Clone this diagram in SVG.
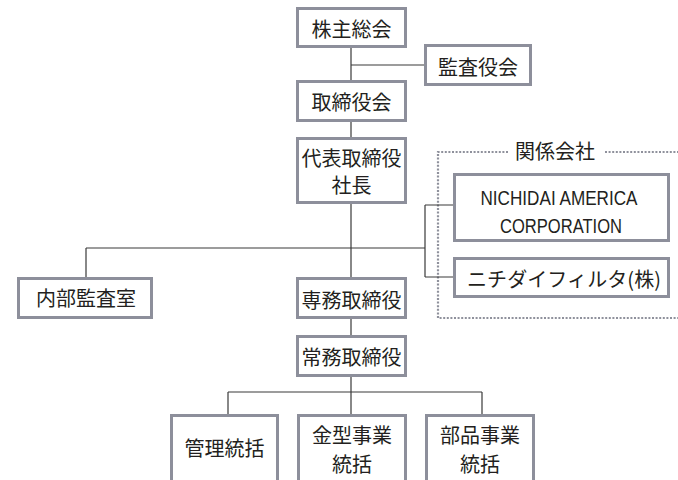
<svg xmlns="http://www.w3.org/2000/svg" width="678" height="480" viewBox="0 0 678 480">
<style>
.box{fill:#fff;stroke:#8d8f9b;stroke-width:3}
.ln{fill:none;stroke:#3a3a3a;stroke-width:1.2}
.dot{fill:none;stroke:#8f919c;stroke-width:2.2;stroke-dasharray:2 1.6}
.t{font-family:"Noto Sans CJK JP","Noto Sans",sans-serif;font-size:20px;fill:#231f20;text-anchor:middle}
.e{font-family:"Liberation Sans Narrow","Liberation Sans",Arial,sans-serif;font-size:21px;fill:#231f20;text-anchor:middle}
</style>
<rect width="678" height="480" fill="#fff"/>
<g id="group-affiliates">
<path class="dot" d="M508 152 H438 V318 H678"/>
<path class="dot" d="M605 152 H678"/>
<text class="t" x="555" y="158.5">関係会社</text>
</g>
<g id="connectors">
<path class="ln" d="M351 48 V80 M351 65 H424 M351 122 V137 M351 204 V277 M86 248 H425 M86 248 V277 M425 205 V277 M425 205 H453 M425 277 H453 M351 319 V335 M351 377 V414 M228 392 H482 M228 392 V414 M482 392 V414"/>
</g>
<g id="n-shareholders"><rect class="box" x="297.5" y="8.5" width="108" height="38"/><text class="t" x="351.5" y="37">株主総会</text></g>
<g id="n-auditors"><rect class="box" x="425.5" y="45.5" width="105" height="39"/><text class="t" x="478" y="75">監査役会</text></g>
<g id="n-board"><rect class="box" x="297.5" y="81.5" width="108" height="39"/><text class="t" x="351.5" y="110">取締役会</text></g>
<g id="n-president"><rect class="box" x="297.5" y="138.5" width="108" height="64"/><text class="t" x="351.5" y="166">代表取締役</text><text class="t" x="351.5" y="192.5">社長</text></g>
<g id="n-nichidai-america"><rect class="box" x="454.5" y="174.5" width="214" height="66"/><text class="e" x="559" y="205" textLength="157" lengthAdjust="spacingAndGlyphs">NICHIDAI AMERICA</text><text class="e" x="561" y="233" textLength="122" lengthAdjust="spacingAndGlyphs">CORPORATION</text></g>
<g id="n-nichidai-filter"><rect class="box" x="454.5" y="258.5" width="214" height="38"/><text class="t" x="564" y="286.5" textLength="194" lengthAdjust="spacing">ニチダイフィルタ(株)</text></g>
<g id="n-internal-audit"><rect class="box" x="18.5" y="278.5" width="133" height="39"/><text class="t" x="86" y="306">内部監査室</text></g>
<g id="n-senmu"><rect class="box" x="297.5" y="278.5" width="108" height="39"/><text class="t" x="351.5" y="308">専務取締役</text></g>
<g id="n-jomu"><rect class="box" x="297.5" y="336.5" width="108" height="39"/><text class="t" x="351.5" y="365">常務取締役</text></g>
<g id="n-admin"><rect class="box" x="171.5" y="415.5" width="106" height="70"/><text class="t" x="224.5" y="456">管理統括</text></g>
<g id="n-mold"><rect class="box" x="298.5" y="415.5" width="107" height="70"/><text class="t" x="352" y="443">金型事業</text><text class="t" x="352" y="472">統括</text></g>
<g id="n-parts"><rect class="box" x="426.5" y="415.5" width="107" height="70"/><text class="t" x="480" y="443">部品事業</text><text class="t" x="480" y="472">統括</text></g>
</svg>
